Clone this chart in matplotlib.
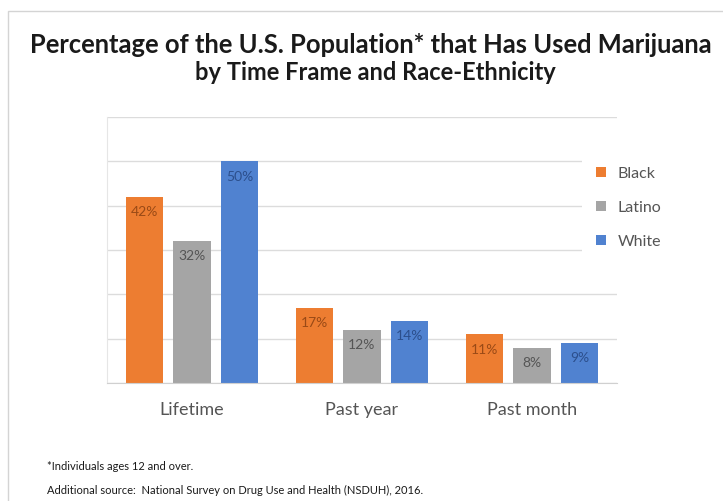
import numpy as np
import matplotlib
matplotlib.use("Agg")
import matplotlib.pyplot as plt
from matplotlib.patches import Rectangle

plt.rcParams['font.family'] = ['Lato', 'DejaVu Sans']

# Data
time_frames = ["Lifetime", "Past year", "Past month"]
groups = ["Black", "Latino", "White"]
black = [42, 17, 11]
latino = [32, 12, 8]
white = [50, 14, 9]
series = [black, latino, white]

bar_colors = ["#ED7D31", "#A5A5A5", "#5082D0"]
label_colors = ["#9A4A16", "#555555", "#2C4F8C"]

title_line1 = "Percentage of the U.S. Population* that Has Used Marijuana"
title_line2 = "by Time Frame and Race-Ethnicity"
footnote1 = "*Individuals ages 12 and over."
footnote2 = "Additional source:  National Survey on Drug Use and Health (NSDUH), 2016."

W, H = 723, 501
fig = plt.figure(figsize=(W / 100, H / 100), dpi=100)
fig.patch.set_facecolor("white")

# light frame around the chart area
fig.add_artist(Rectangle((8 / W, -0.1), 1.2, 1 - 11 / H + 0.1, transform=fig.transFigure,
                         fill=False, edgecolor="#D4D4D4", linewidth=1.0))

ax = fig.add_axes([107 / W, (H - 383) / H, 510 / W, 266 / H])

x = np.arange(len(time_frames))
pitch = 0.28
width = 0.218
for i, (vals, grp) in enumerate(zip(series, groups)):
    pos = x + (i - 1) * pitch
    bars = ax.bar(pos, vals, width, color=bar_colors[i], label=grp, zorder=2)
    for b, v in zip(bars, vals):
        ax.annotate(f"{v}%", (b.get_x() + b.get_width() / 2, v),
                    xytext=(0, -11), textcoords="offset points",
                    ha="center", va="center", fontsize=10,
                    color=label_colors[i], zorder=3)

ax.set_xlim(-0.5, 2.5)
ax.set_ylim(0, 60)
ax.set_yticks(np.arange(0, 61, 10))
ax.yaxis.grid(True, color="#DCDCDC", linewidth=1.0, zorder=0)
ax.set_axisbelow(True)
ax.tick_params(axis="y", left=False, labelleft=False)
ax.tick_params(axis="x", bottom=False, labelsize=13, colors="#555555", pad=10)
ax.set_xticks(x)
ax.set_xticklabels(time_frames)
for s in ["top", "right"]:
    ax.spines[s].set_visible(False)
ax.spines["left"].set_color("#E6E6E6")
ax.spines["bottom"].set_color("#D0D0D0")

leg = ax.legend(loc="upper left", bbox_to_anchor=(0.915, 0.897), frameon=True,
                facecolor="white", edgecolor="none", framealpha=1,
                fontsize=11.5, labelcolor="#555555", handlelength=0.65,
                handleheight=0.65, handletextpad=0.7, labelspacing=1.25,
                borderpad=0.9)
leg.get_frame().set_linewidth(0)

fig.text(0.513, 1 - 45 / H, title_line1, ha="center", va="center",
         fontsize=18.4, fontweight="bold", color="#1A1A1A")
fig.text(0.519, 1 - 73 / H, title_line2, ha="center", va="center",
         fontsize=17, fontweight="bold", color="#1A1A1A")

fig.text(47 / W, 1 - 467 / H, footnote1, ha="left", va="center",
         fontsize=8, color="#1A1A1A")
fig.text(47 / W, 1 - 490 / H, footnote2, ha="left", va="center",
         fontsize=8, color="#1A1A1A")

fig.savefig("out.png", dpi=100, facecolor="white")
